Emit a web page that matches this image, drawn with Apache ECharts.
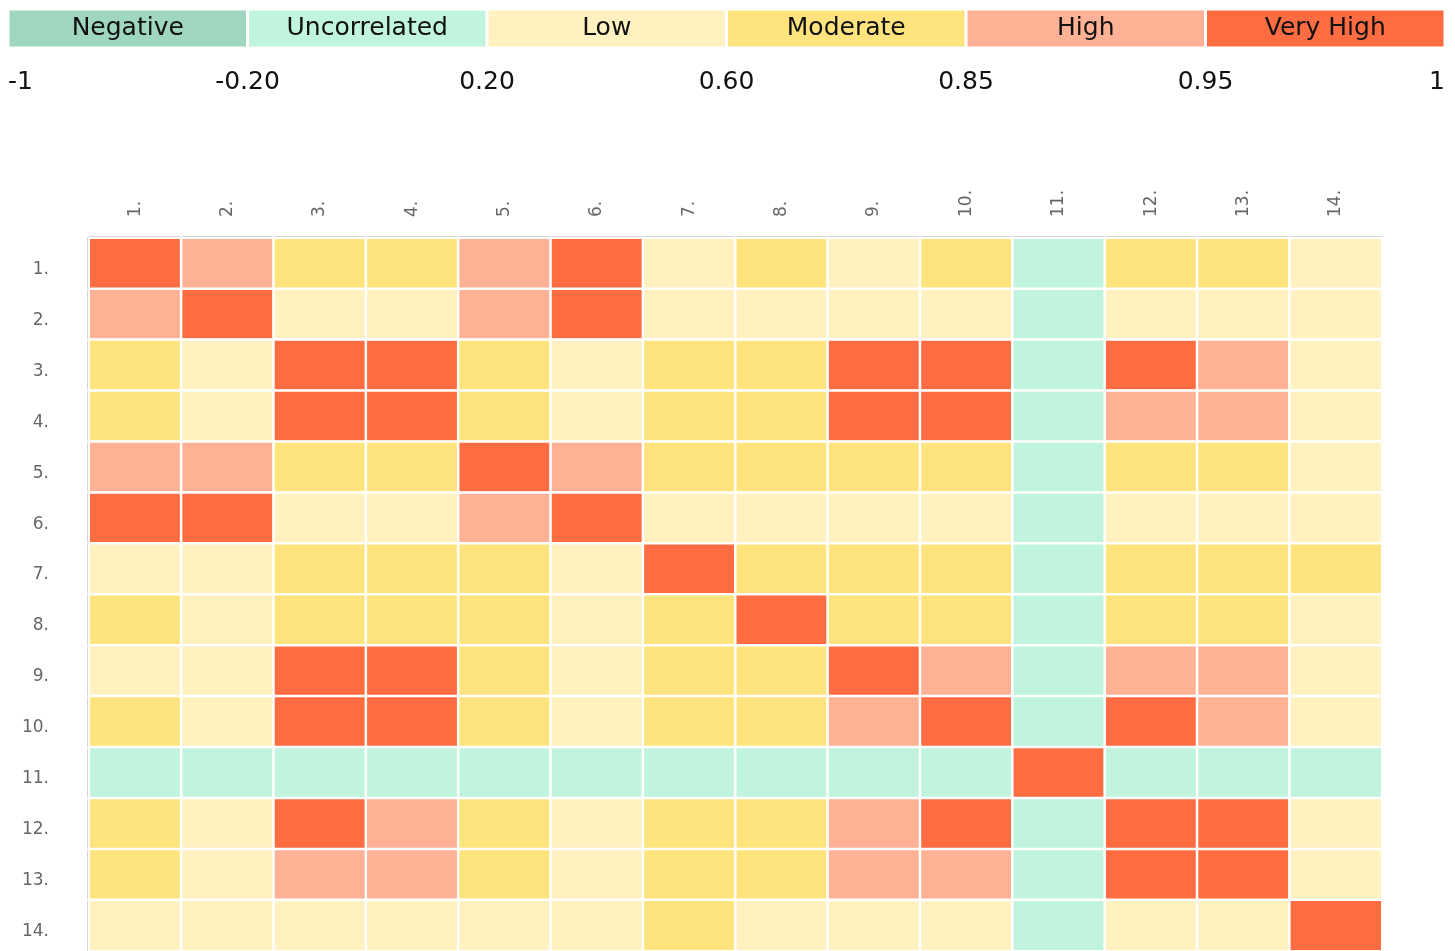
<!DOCTYPE html>
<html>
<head>
<meta charset="utf-8">
<script src="https://cdn.jsdelivr.net/npm/echarts@6/dist/echarts.min.js"></script>
<style>
  html, body { margin: 0; padding: 0; background: #fff; }
  #chart { width: 1455px; height: 951px; }
</style>
</head>
<body>
<div id="chart"></div>
<script>
// ---- Data ----
const variables = ['1.', '2.', '3.', '4.', '5.', '6.', '7.', '8.', '9.', '10.', '11.', '12.', '13.', '14.'];

const levelNames = ['Negative', 'Uncorrelated', 'Low', 'Moderate', 'High', 'Very High'];
const thresholds = [-1, -0.20, 0.20, 0.60, 0.85, 0.95, 1];
const thresholdLabels = ['-1', '-0.20', '0.20', '0.60', '0.85', '0.95', '1'];

// correlation matrix (row i, column j)
const correlations = [
  [1.00, 0.90, 0.72, 0.72, 0.90, 0.97, 0.45, 0.70, 0.50, 0.68, 0.05, 0.70, 0.70, 0.40],
  [0.90, 1.00, 0.50, 0.50, 0.88, 0.96, 0.40, 0.45, 0.40, 0.45, 0.02, 0.45, 0.45, 0.35],
  [0.72, 0.50, 1.00, 0.98, 0.75, 0.50, 0.70, 0.70, 0.97, 0.97, 0.05, 0.96, 0.92, 0.45],
  [0.72, 0.50, 0.98, 1.00, 0.75, 0.50, 0.70, 0.70, 0.96, 0.96, 0.05, 0.93, 0.92, 0.45],
  [0.90, 0.88, 0.75, 0.75, 1.00, 0.90, 0.68, 0.70, 0.75, 0.75, 0.08, 0.72, 0.72, 0.45],
  [0.97, 0.96, 0.50, 0.50, 0.90, 1.00, 0.40, 0.45, 0.45, 0.45, 0.03, 0.45, 0.45, 0.35],
  [0.45, 0.40, 0.70, 0.70, 0.68, 0.40, 1.00, 0.65, 0.70, 0.70, 0.10, 0.70, 0.70, 0.62],
  [0.70, 0.45, 0.70, 0.70, 0.70, 0.45, 0.65, 1.00, 0.68, 0.70, 0.08, 0.70, 0.70, 0.50],
  [0.50, 0.40, 0.97, 0.96, 0.75, 0.45, 0.70, 0.68, 1.00, 0.93, 0.05, 0.92, 0.92, 0.45],
  [0.68, 0.45, 0.97, 0.96, 0.75, 0.45, 0.70, 0.70, 0.93, 1.00, 0.05, 0.96, 0.92, 0.45],
  [0.05, 0.02, 0.05, 0.05, 0.08, 0.03, 0.10, 0.08, 0.05, 0.05, 1.00, 0.05, 0.05, 0.05],
  [0.70, 0.45, 0.96, 0.93, 0.72, 0.45, 0.70, 0.70, 0.92, 0.96, 0.05, 1.00, 0.97, 0.45],
  [0.70, 0.45, 0.92, 0.92, 0.72, 0.45, 0.70, 0.70, 0.92, 0.92, 0.05, 0.97, 1.00, 0.45],
  [0.40, 0.35, 0.45, 0.45, 0.45, 0.35, 0.62, 0.50, 0.45, 0.45, 0.05, 0.45, 0.45, 1.00]
];

// ---- Styles ----
const palette = ['#9ed6c0', '#c0f4de', '#fff1c0', '#ffe47e', '#feb194', '#ff6c42'];
const FONT = '"DejaVu Sans", "Noto Sans", sans-serif';

// ---- Build ----
const heatData = [];
correlations.forEach((row, i) => {
  row.forEach((v, j) => heatData.push([j, i, v]));
});

const pieces = levelNames.map((name, k) => {
  const p = { color: palette[k], label: name };
  p.gte = thresholds[k];
  if (k < levelNames.length - 1) p.lt = thresholds[k + 1]; else p.lte = thresholds[k + 1];
  return p;
});

const legendSeries = levelNames.map((name, k) => ({
  type: 'bar',
  name: name,
  stack: 'scale',
  xAxisIndex: 1,
  yAxisIndex: 1,
  barWidth: '100%',
  silent: true,
  data: [1],
  itemStyle: { color: palette[k], borderColor: '#fff', borderWidth: 1.5 },
  label: {
    show: true,
    position: 'inside',
    formatter: name,
    color: '#111',
    fontSize: 25,
    fontFamily: FONT
  }
}));

const chart = echarts.init(document.getElementById('chart'), null, { renderer: 'canvas' });

chart.setOption({
  animation: false,
  backgroundColor: '#fff',
  grid: [
    { left: 89, top: 238, width: 1293, height: 716, containLabel: false },
    { left: 8, top: 9, width: 1437, height: 39, containLabel: false }
  ],
  xAxis: [
    {
      type: 'category',
      data: variables,
      position: 'top',
      offset: 1,
      gridIndex: 0,
      axisLine: { show: true, lineStyle: { color: '#aaaaaa', width: 2 } },
      axisTick: { show: false },
      splitLine: { show: false },
      axisLabel: {
        rotate: -90,
        color: '#666',
        fontSize: 17,
        fontFamily: FONT,
        margin: 20
      }
    },
    {
      type: 'value',
      gridIndex: 1,
      min: 0,
      max: 6,
      interval: 1,
      axisLine: { show: false },
      axisTick: { show: false },
      splitLine: { show: false },
      axisLabel: {
        color: '#111',
        fontSize: 25,
        fontFamily: FONT,
        margin: 22,
        alignMinLabel: 'left',
        alignMaxLabel: 'right',
        formatter: v => thresholdLabels[v]
      }
    }
  ],
  yAxis: [
    {
      type: 'category',
      data: variables,
      inverse: true,
      offset: 1,
      gridIndex: 0,
      axisLine: { show: true, lineStyle: { color: '#aaaaaa', width: 2 } },
      axisTick: { show: false },
      splitLine: { show: false },
      axisLabel: {
        color: '#666',
        fontSize: 17,
        fontFamily: FONT,
        margin: 39,
        verticalAlign: 'top',
        lineHeight: 12
      }
    },
    {
      type: 'category',
      data: ['scale'],
      gridIndex: 1,
      show: false
    }
  ],
  visualMap: {
    type: 'piecewise',
    show: false,
    dimension: 2,
    seriesIndex: 0,
    pieces: pieces
  },
  series: [
    {
      type: 'heatmap',
      xAxisIndex: 0,
      yAxisIndex: 0,
      data: heatData,
      silent: true,
      itemStyle: { borderColor: '#fff', borderWidth: 2.5 },
      label: { show: false }
    }
  ].concat(legendSeries)
});
</script>
</body>
</html>
